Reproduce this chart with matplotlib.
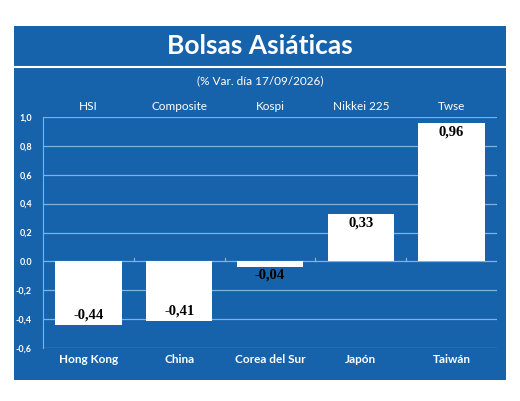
import matplotlib
matplotlib.use("Agg")
import matplotlib.pyplot as plt

indices = ["HSI", "Composite", "Kospi", "Nikkei 225", "Twse"]
countries = ["Hong Kong", "China", "Corea del Sur", "Japón", "Taiwán"]
values = [-0.44, -0.41, -0.04, 0.33, 0.96]
yticks = [1.0, 0.8, 0.6, 0.4, 0.2, 0.0, -0.2, -0.4, -0.6]

BLUE = "#1763ab"
GRID = "#7fb2e0"
W, H = 520, 401
fig = plt.figure(figsize=(W/100, H/100), dpi=100)
fig.patch.set_facecolor("white")
bg = fig.add_axes([14/W, 1-380/H, 492/W, 354/H], zorder=-5)
bg.set_facecolor(BLUE)
bg.set_xticks([]); bg.set_yticks([])
for s in bg.spines.values():
    s.set_visible(False)
fig.lines.append(plt.Line2D([14/W, 506/W], [1-67/H, 1-67/H], transform=fig.transFigure,
                            color="white", lw=1.5))
fig.text(0.5, 1-46/H, "Bolsas Asiáticas", ha="center", va="center", color="white",
         fontsize=19, fontweight="bold", family="Lato")
fig.text(0.5, 1-81/H, "(% Var. día 17/09/2026)", ha="center", va="center", color="white",
         fontsize=8.5, family="Lato")

ax = fig.add_axes([43/W, 1-348/H, 454/W, 231/H], zorder=1)
ax.set_facecolor(BLUE)
ax.set_xlim(-0.5, 4.5)
ax.set_ylim(-0.6, 1.0)
for y in yticks:
    ax.axhline(y, color=GRID, lw=0.9, zorder=1)
ax.bar(range(5), values, width=0.73, color="white", zorder=2)
for i, v in enumerate(values):
    if v < -0.1:
        y, va = v + 0.02, "bottom"
    elif v < 0:
        y, va = v - 0.01, "top"
    else:
        y, va = v - 0.02, "top"
    ax.text(i, y, f"{v:.2f}".replace(".", ","), ha="center", va=va, fontsize=10.5,
            fontweight="bold", family="Liberation Serif", color="black", zorder=3)
for b in [0.5, 1.5, 2.5, 3.5]:
    ax.plot([b, b], [0, 0.02], color=GRID, lw=0.9, zorder=1)
for s in ax.spines.values():
    s.set_visible(False)
ax.spines["left"].set_visible(True)
ax.spines["left"].set_color(GRID)
ax.set_yticks(yticks)
ax.set_yticklabels([f"{t:.1f}".replace(".", ",") if t != 0 else "0.0" for t in yticks],
                   color="white", fontsize=6.5, fontweight="bold", family="Lato")
ax.tick_params(axis="y", length=0, pad=8)
ax.set_xticks(range(5))
ax.set_xticklabels(countries, color="white", fontsize=8.5, fontweight="bold", family="Lato")
ax.tick_params(axis="x", length=0, pad=4)
for i, name in enumerate(indices):
    ax.text(i, 1.07, name, ha="center", va="center", color="white", fontsize=8.5,
            family="Lato", clip_on=False)

fig.savefig("out.png", dpi=100, facecolor="white")
